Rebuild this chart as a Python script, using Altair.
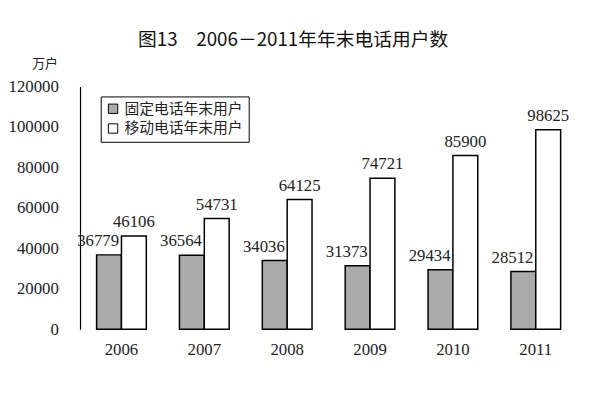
import altair as alt
import pandas as pd

years = ["2006", "2007", "2008", "2009", "2010", "2011"]
fixed = [36779, 36564, 34036, 31373, 29434, 28512]
mobile = [46106, 54731, 64125, 74721, 85900, 98625]
series = ["固定电话年末用户", "移动电话年末用户"]
y_ticks = [0, 20000, 40000, 60000, 80000, 100000, 120000]

rows = []
for i, yr in enumerate(years):
    rows.append({"year": yr, "series": series[0], "value": fixed[i]})
    rows.append({"year": yr, "series": series[1], "value": mobile[i]})
df = pd.DataFrame(rows)

SERIF = "Liberation Serif"
CJK = "Noto Sans CJK SC"

x_enc = alt.X("year:N", sort=years,
              scale=alt.Scale(paddingInner=0.4, paddingOuter=0.2),
              axis=alt.Axis(title=None, domain=False, ticks=False, labelAngle=0,
                            labelFont=SERIF, labelFontSize=17, labelColor="#222",
                            labelPadding=13))
xoff = alt.XOffset("series:N", sort=series)
y_enc = alt.Y("value:Q",
              scale=alt.Scale(domain=[0, 120000], nice=False),
              axis=alt.Axis(title="万户", titleAngle=0, titleX=-36, titleY=-23,
                            titleAlign="center", titleBaseline="middle",
                            titleFont=CJK, titleFontSize=13, titleFontWeight="normal",
                            titleColor="#222",
                            values=y_ticks, format="d", grid=False, ticks=False,
                            domainColor="black", domainWidth=1.2,
                            labelFont=SERIF, labelFontSize=17, labelColor="#222",
                            labelPadding=22))

base = alt.Chart(df)

bars = base.mark_bar(stroke="black", strokeWidth=1.5).encode(
    x=x_enc, xOffset=xoff, y=y_enc,
    fill=alt.Fill("series:N", sort=series,
                  scale=alt.Scale(domain=series, range=["#ababab", "#ffffff"]),
                  legend=alt.Legend(title=None, orient="none", legendX=21, legendY=10,
                                    direction="vertical",
                                    strokeColor="black", fillColor="white",
                                    padding=5, rowPadding=4,
                                    symbolType="square", symbolSize=90,
                                    symbolStrokeColor="black", symbolStrokeWidth=1,
                                    labelFont=CJK, labelFontSize=15, labelColor="#222",
                                    labelOffset=4)),
)

lab_fixed = base.transform_filter(alt.datum.series == series[0]).mark_text(
    baseline="bottom", dy=-5, dx=-11, font=SERIF, fontSize=17, color="#222"
).encode(x=x_enc, xOffset=xoff, y=y_enc, text=alt.Text("value:Q", format="d"))

lab_mobile = base.transform_filter(alt.datum.series == series[1]).mark_text(
    baseline="bottom", dy=-5, font=SERIF, fontSize=17, color="#222"
).encode(x=x_enc, xOffset=xoff, y=y_enc, text=alt.Text("value:Q", format="d"))

chart = alt.layer(bars, lab_fixed, lab_mobile).properties(
    width=504, height=246,
    title=alt.Title("图13　2006－2011年年末电话用户数", font=CJK, fontSize=19,
                    fontWeight="normal", color="#111", anchor="middle", dx=-36,
                    offset=8),
    autosize=alt.AutoSizeParams(type="none"),
    padding={"left": 73, "top": 77, "right": 15, "bottom": 63},
).configure_view(stroke=None).configure_scale(bandWithNestedOffsetPaddingInner=0, bandWithNestedOffsetPaddingOuter=0)

chart.save("out.html", embed_options={"renderer": "svg", "actions": False})
